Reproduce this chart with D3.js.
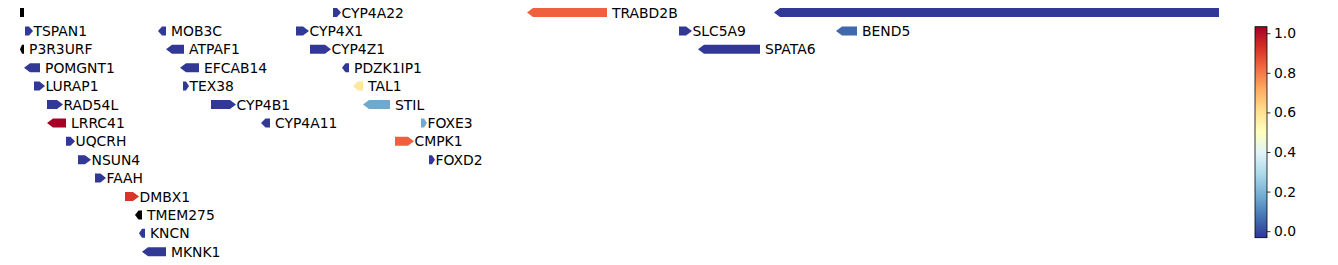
<!DOCTYPE html>
<html>
<head>
<meta charset="utf-8">
<script src="https://cdn.jsdelivr.net/npm/d3@7"></script>
<style>
  body { margin: 0; background: #fff; }
  text { font-family: "DejaVu Sans", sans-serif; }
</style>
</head>
<body>
<svg id="chart"></svg>
<script>
// Gene track data (positions relative to the window start)
const geneNames = ['', 'CYP4A22', 'TRABD2B', '',
  'TSPAN1', 'MOB3C', 'CYP4X1', 'SLC5A9', 'BEND5',
  'P3R3URF', 'ATPAF1', 'CYP4Z1', 'SPATA6',
  'POMGNT1', 'EFCAB14', 'PDZK1IP1',
  'LURAP1', 'TEX38', 'TAL1',
  'RAD54L', 'CYP4B1', 'STIL',
  'LRRC41', 'CYP4A11', 'FOXE3',
  'UQCRH', 'CMPK1',
  'NSUN4', 'FOXD2',
  'FAAH', 'DMBX1', 'TMEM275', 'KNCN', 'MKNK1']
const geneStarts = [0, 313, 507, 754,
  5, 138, 276, 659, 816,
  0, 146, 290, 678,
  4, 160, 322,
  14, 163, 333,
  27, 191, 343,
  27, 241, 401,
  46, 375,
  58, 409,
  75, 105, 115, 119, 122]
const geneEnds = [4, 321, 587, 1199,
  13, 146, 289, 672, 837,
  4, 164, 311, 740,
  20, 179, 329,
  25, 169, 343,
  43, 216, 370,
  46, 250, 407,
  55, 394,
  71, 415,
  86, 119, 122, 125, 146]
const geneStrands = [0, 1, -1, -1,
  1, -1, 1, 1, -1,
  -1, -1, 1, -1,
  -1, -1, -1,
  1, 1, -1,
  1, 1, -1,
  -1, -1, 1,
  1, 1,
  1, 1,
  1, 1, -1, -1, -1]
const geneRows = [0, 0, 0, 0,
  1, 1, 1, 1, 1,
  2, 2, 2, 2,
  3, 3, 3,
  4, 4, 4,
  5, 5, 5,
  6, 6, 6,
  7, 7,
  8, 8,
  9, 10, 11, 12, 13]
// null = no score (drawn black)
const geneScores = [null, -0.03, 0.84, -0.03,
  -0.03, -0.03, -0.03, -0.03, 0.05,
  null, -0.03, -0.03, -0.03,
  -0.03, -0.03, -0.03,
  -0.03, -0.03, 0.58,
  -0.03, -0.03, 0.17,
  1.03, -0.03, 0.17,
  -0.03, 0.84,
  -0.03, -0.03,
  -0.03, 0.92, null, -0.03, -0.03]
const colorbarTicks = [0.0, 0.2, 0.4, 0.6, 0.8, 1.0]
// RdYlBu reversed, same 11 anchor colours as matplotlib
const cmapColors = ['#313695', '#4575b4', '#74add1', '#abd9e9', '#e0f3f8', '#ffffbf',
  '#fee090', '#fdae61', '#f46d43', '#d73027', '#a50026']

const width = 1338
const height = 265
const rowTop = 12.5
const rowStep = 18.4
const geneHeight = 9

const svg = d3.select('#chart').attr('width', width).attr('height', height)

const x = d3.scaleLinear().domain([0, 1199]).range([20, 1219])
const y = i => rowTop + i * rowStep

const vmin = -0.033
const vmax = 1.033
const norm = d3.scaleLinear().domain([vmin, vmax]).range([0, 1]).clamp(true)
const cmap = d3.scaleLinear()
  .domain(d3.range(cmapColors.length).map(i => i / (cmapColors.length - 1)))
  .range(cmapColors)
const color = v => cmap(norm(v))

const genes = geneNames.map((name, i) => ({
  name,
  start: geneStarts[i],
  end: geneEnds[i],
  strand: geneStrands[i],
  row: geneRows[i],
  score: geneScores[i]
}))

// arrow-shaped gene polygon
function genePath(d) {
  const x0 = x(d.start)
  const x1 = x(d.end)
  const yc = y(d.row)
  const h = geneHeight / 2
  const w = x1 - x0
  const head = Math.min(6, w / 2)
  if (d.strand === 1) {
    return `M${x0},${yc - h}L${x1 - head},${yc - h}L${x1},${yc}L${x1 - head},${yc + h}L${x0},${yc + h}Z`
  } else if (d.strand === -1) {
    return `M${x1},${yc - h}L${x0 + head},${yc - h}L${x0},${yc}L${x0 + head},${yc + h}L${x1},${yc + h}Z`
  }
  return `M${x0},${yc - h}L${x1},${yc - h}L${x1},${yc + h}L${x0},${yc + h}Z`
}

const g = svg.append('g')

g.selectAll('.gene')
  .data(genes)
  .enter()
  .append('path')
  .attr('class', 'gene')
  .attr('d', genePath)
  .attr('fill', d => (d.score === null ? '#000' : color(d.score)))

g.selectAll('.gene-label')
  .data(genes.filter(d => d.name))
  .enter()
  .append('text')
  .attr('class', 'gene-label')
  .attr('x', d => x(d.end) + (d.strand === 1 ? 0.5 : 5))
  .attr('y', d => y(d.row))
  .attr('dy', '0.36em')
  .attr('font-size', 13.9)
  .attr('fill', '#000')
  .text(d => d.name)

// Colorbar
const cbX = 1255
const cbW = 12
const cbTop = 26.7
const cbBottom = 237.7
const cbScale = d3.scaleLinear().domain([vmin, vmax]).range([cbBottom, cbTop])

const defs = svg.append('defs')
const grad = defs.append('linearGradient')
  .attr('id', 'cbgrad')
  .attr('x1', 0).attr('y1', 1).attr('x2', 0).attr('y2', 0)
cmapColors.forEach((c, i) => {
  grad.append('stop')
    .attr('offset', i / (cmapColors.length - 1))
    .attr('stop-color', c)
})

svg.append('rect')
  .attr('x', cbX)
  .attr('y', cbTop)
  .attr('width', cbW)
  .attr('height', cbBottom - cbTop)
  .attr('fill', 'url(#cbgrad)')
  .attr('stroke', '#000')
  .attr('stroke-width', 0.8)

const cbAxis = svg.append('g')
  .attr('transform', `translate(${cbX + cbW},0)`)
  .call(d3.axisRight(cbScale).tickValues(colorbarTicks).tickFormat(d3.format('.1f')).tickSize(3.5).tickPadding(3.5))
cbAxis.select('.domain').remove()
cbAxis.selectAll('line').attr('stroke', '#000').attr('stroke-width', 0.8)
cbAxis.selectAll('text')
  .attr('font-size', 13.9)
  .attr('font-family', '"DejaVu Sans", sans-serif')
  .attr('fill', '#000')
</script>
</body>
</html>
